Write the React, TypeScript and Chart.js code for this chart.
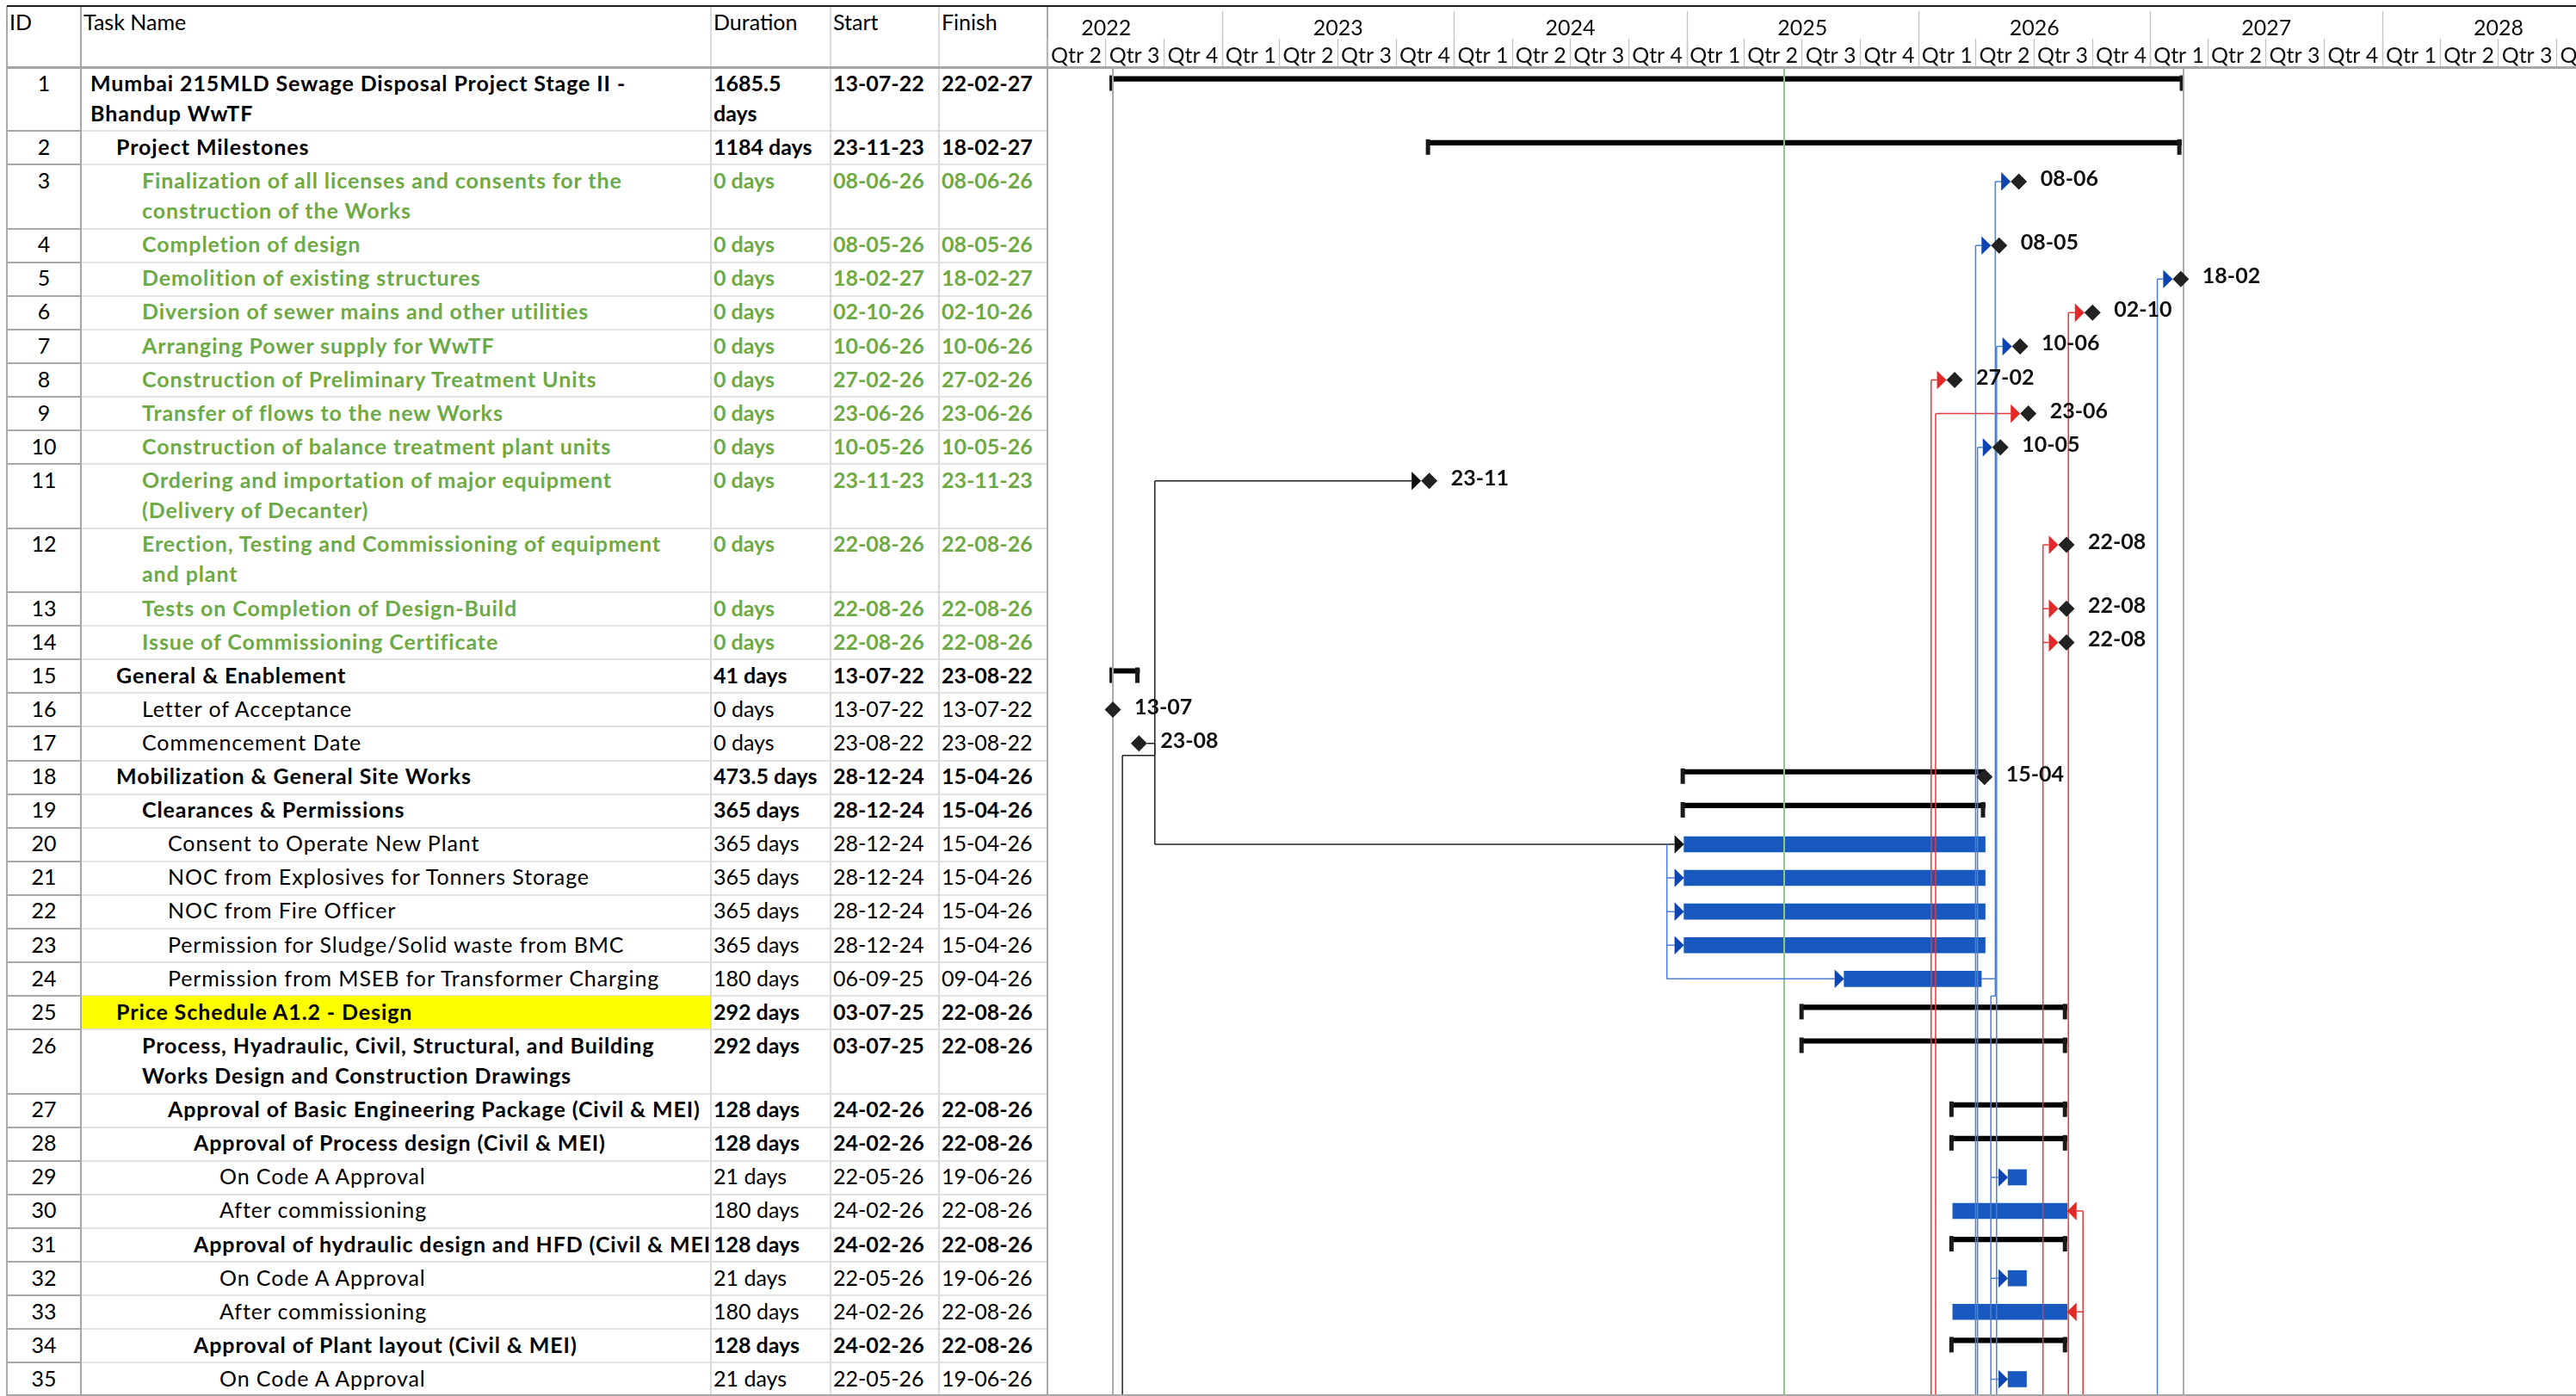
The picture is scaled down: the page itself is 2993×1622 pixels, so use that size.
import React, { useEffect, useRef } from 'react';
import { Chart, registerables } from 'chart.js';

Chart.register(...registerables);

// ---------------- data ----------------
const taskIds = ['1', '2', '3', '4', '5', '6', '7', '8', '9', '10', '11', '12', '13', '14', '15', '16', '17', '18',
  '19', '20', '21', '22', '23', '24', '25', '26', '27', '28', '29', '30', '31', '32', '33', '34', '35'];

const taskNames = [
  'Mumbai 215MLD Sewage Disposal Project Stage II -\nBhandup WwTF',
  'Project Milestones',
  'Finalization of all licenses and consents for the\nconstruction of the Works',
  'Completion of design',
  'Demolition of existing structures',
  'Diversion of sewer mains and other utilities',
  'Arranging Power supply for WwTF',
  'Construction of Preliminary Treatment Units',
  'Transfer of flows to the new Works',
  'Construction of balance treatment plant units',
  'Ordering and importation of major equipment\n(Delivery of Decanter)',
  'Erection, Testing and Commissioning of equipment\nand plant',
  'Tests on Completion of Design-Build',
  'Issue of Commissioning Certificate',
  'General & Enablement',
  'Letter of Acceptance',
  'Commencement Date',
  'Mobilization & General Site Works',
  'Clearances & Permissions',
  'Consent to Operate New Plant',
  'NOC from Explosives for Tonners Storage',
  'NOC from Fire Officer',
  'Permission for Sludge/Solid waste from BMC',
  'Permission from MSEB for Transformer Charging',
  'Price Schedule A1.2 - Design',
  'Process, Hyadraulic, Civil, Structural, and Building\nWorks Design and Construction Drawings',
  'Approval of Basic Engineering Package (Civil & MEI)',
  'Approval of Process design (Civil & MEI)',
  'On Code A Approval',
  'After commissioning',
  'Approval of hydraulic design and HFD (Civil & MEI)',
  'On Code A Approval',
  'After commissioning',
  'Approval of Plant layout (Civil & MEI)',
  'On Code A Approval',
];

const durations = ['1685.5\ndays', '1184 days', '0 days', '0 days', '0 days', '0 days', '0 days', '0 days', '0 days',
  '0 days', '0 days', '0 days', '0 days', '0 days', '41 days', '0 days', '0 days', '473.5 days', '365 days',
  '365 days', '365 days', '365 days', '365 days', '180 days', '292 days', '292 days', '128 days', '128 days',
  '21 days', '180 days', '128 days', '21 days', '180 days', '128 days', '21 days'];

const startDates = ['13-07-22', '23-11-23', '08-06-26', '08-05-26', '18-02-27', '02-10-26', '10-06-26', '27-02-26',
  '23-06-26', '10-05-26', '23-11-23', '22-08-26', '22-08-26', '22-08-26', '13-07-22', '13-07-22', '23-08-22',
  '28-12-24', '28-12-24', '28-12-24', '28-12-24', '28-12-24', '28-12-24', '06-09-25', '03-07-25', '03-07-25',
  '24-02-26', '24-02-26', '22-05-26', '24-02-26', '24-02-26', '22-05-26', '24-02-26', '24-02-26', '22-05-26'];

const finishDates = ['22-02-27', '18-02-27', '08-06-26', '08-05-26', '18-02-27', '02-10-26', '10-06-26', '27-02-26',
  '23-06-26', '10-05-26', '23-11-23', '22-08-26', '22-08-26', '22-08-26', '23-08-22', '13-07-22', '23-08-22',
  '15-04-26', '15-04-26', '15-04-26', '15-04-26', '15-04-26', '15-04-26', '09-04-26', '22-08-26', '22-08-26',
  '22-08-26', '22-08-26', '19-06-26', '22-08-26', '22-08-26', '19-06-26', '22-08-26', '22-08-26', '19-06-26'];

// S = summary, M = milestone, T = task
const taskKinds = ['S', 'S', 'M', 'M', 'M', 'M', 'M', 'M', 'M', 'M', 'M', 'M', 'M', 'M', 'S', 'M', 'M', 'S', 'S',
  'T', 'T', 'T', 'T', 'T', 'S', 'S', 'S', 'S', 'T', 'T', 'S', 'T', 'T', 'S', 'T'];

// outline level of each row
const outlineLevels = [0, 1, 2, 2, 2, 2, 2, 2, 2, 2, 2, 2, 2, 2, 1, 2, 2, 1, 2, 3, 3, 3, 3, 3, 1, 2, 3, 4, 5, 5, 4, 5,
  5, 4, 5];

// b = bold, g = green bold, n = normal
const rowStyles = ['b', 'b', 'g', 'g', 'g', 'g', 'g', 'g', 'g', 'g', 'g', 'g', 'g', 'g', 'b', 'n', 'n', 'b', 'b', 'n',
  'n', 'n', 'n', 'n', 'b', 'b', 'b', 'b', 'n', 'n', 'b', 'n', 'n', 'b', 'n'];

const highlightRows = [25];
const finishMarkerRows = [18];

const tableHeaders = ['ID', 'Task Name', 'Duration', 'Start', 'Finish'];
const timescaleYears = [2022, 2023, 2024, 2025, 2026, 2027, 2028];
const quarterLabels = ['Qtr 1', 'Qtr 2', 'Qtr 3', 'Qtr 4'];
const axisStart = '2022-04-01';
const axisEnd = '2028-11-01';
const statusDate = '2025-06-03';

const arrowHeads = [
  { row: 3, color: 'blue', side: 'start' }, { row: 4, color: 'blue', side: 'start' },
  { row: 5, color: 'blue', side: 'start' }, { row: 6, color: 'red', side: 'start' },
  { row: 7, color: 'blue', side: 'start' }, { row: 8, color: 'red', side: 'start' },
  { row: 9, color: 'red', side: 'start' }, { row: 10, color: 'blue', side: 'start' },
  { row: 11, color: 'black', side: 'start' }, { row: 12, color: 'red', side: 'start' },
  { row: 13, color: 'red', side: 'start' }, { row: 14, color: 'red', side: 'start' },
  { row: 20, color: 'black', side: 'start' }, { row: 21, color: 'blue', side: 'start' },
  { row: 22, color: 'blue', side: 'start' }, { row: 23, color: 'blue', side: 'start' },
  { row: 24, color: 'blue', side: 'start' }, { row: 29, color: 'blue', side: 'start' },
  { row: 30, color: 'red', side: 'end' }, { row: 32, color: 'blue', side: 'start' },
  { row: 33, color: 'red', side: 'end' }, { row: 35, color: 'blue', side: 'start' },
];

// dependency link routes (vertical at date x, from row to row; to 0 = bottom of view)
const linkRoutes = [
  { color: 'red', x: '2026-01-21', from: 8, to: 0, targets: [8] },
  { color: 'red', x: '2026-01-28', from: 9, to: 0, targets: [9] },
  { color: 'blue', x: '2026-04-01', from: 4, to: 0, targets: [4] },
  { color: 'blue', x: '2026-04-04', from: 10, to: 0, targets: [10] },
  { color: 'blue', x: '2026-05-02', from: 3, to: 24, targets: [3], source: 24 },
  { color: 'blue', x: '2026-05-04', from: 7, to: 0, targets: [7] },
  { color: 'red', x: '2026-07-16', from: 12, to: 0, targets: [12, 13, 14] },
  { color: 'red', x: '2026-08-25', from: 6, to: 0, targets: [6] },
  { color: 'blue', x: '2027-01-12', from: 5, to: 0, targets: [5] },
  { color: 'red', x: '2026-09-17', from: 30, to: 0, targets: [30, 33] },
  { color: 'blue', x: '2026-04-25', from: 24, drop: 20, join: '2026-05-02', to: 0, targets: [29, 32, 35] },
  { color: 'black', x: '2022-09-17', from: 11, to: 20, targets: [11, 20], source: 17 },
  { color: 'black', x: '2022-07-28', from: 17, drop: 14, join: '2022-09-17', to: 0, targets: [] },
  { color: 'blue', x: '2024-12-01', from: 20, to: 24, targets: [21, 22, 23, 24] },
];

// ---------------- helpers / layout ----------------
const DAY_MS = 86400000;
const BASE = Date.UTC(2022, 0, 1);
const dmy = (s: string) => {
  const [d, m, y] = s.split('-').map(Number);
  return (Date.UTC(2000 + y, m - 1, d) - BASE) / DAY_MS;
};
const iso = (s: string) => {
  const [y, m, d] = s.split('-').map(Number);
  return (Date.UTC(y, m - 1, d) - BASE) / DAY_MS;
};

const FONT = 'Lato, "Open Sans", sans-serif';
const FS = 25;
const NAME_SPACING = 0.9;
const LINE_H = 35.2;
const ROW_PAD = 3.9;
const HEADER_TOP = 7;
const HEADER_BOTTOM = 78;
const MARK_OFFSET = 19.55;
const PAGE_W = 2993;
const PAGE_H = 1622;
const COLS = [8, 94, 826, 965, 1091, 1217];
const GANTT_LEFT = 1217;
const GREEN = '#6DAA45';

const lineCounts = taskNames.map((n) => n.split('\n').length);
const rowHeights = lineCounts.map((c) => ROW_PAD + LINE_H * c);
const rowTops: number[] = [];
let acc = 0;
for (const h of rowHeights) { rowTops.push(acc); acc += h; }
const totalHeight = acc;
const markY = rowTops.map((t) => t + MARK_OFFSET);

const taskBarData = taskKinds.flatMap((k, i) => (k === 'T'
  ? [{ x: [dmy(startDates[i]), dmy(finishDates[i]) + 1], y: markY[i] }] : []));
const summaryData = taskKinds.flatMap((k, i) => (k === 'S'
  ? [{ x: [dmy(startDates[i]), dmy(finishDates[i]) + 1], y: markY[i] - 6 }] : []));
const milestoneData = [
  ...taskKinds.flatMap((k, i) => (k === 'M' ? [{ x: dmy(startDates[i]), y: markY[i] }] : [])),
  ...finishMarkerRows.map((r) => ({ x: dmy(finishDates[r - 1]), y: markY[r - 1] })),
];

const ARROW_COL: Record<string, string> = { blue: '#0F45B0', red: '#E42828', black: '#111111' };
const LINK_COL: Record<string, string> = { blue: '#4D7FD3', red: '#E53A3A', black: '#222222' };

const ganttPlugin = {
  id: 'ganttDecor',
  afterDatasetDraw(chart: any, args: any) {
    if (args.index !== 1) return;
    const { ctx, chartArea } = chart;
    const xs = chart.scales.x;
    const ys = chart.scales.y;
    const X = (v: number) => xs.getPixelForValue(v);
    const Y = (row: number) => ys.getPixelForValue(markY[row - 1]);
    ctx.save();
    ctx.beginPath();
    ctx.rect(chartArea.left, chartArea.top, chartArea.right - chartArea.left, chartArea.bottom - chartArea.top);
    ctx.clip();

    // summary caps
    ctx.fillStyle = '#1a1a1a';
    taskKinds.forEach((k, i) => {
      if (k !== 'S') return;
      const yc = Y(i + 1);
      const x0 = X(dmy(startDates[i]));
      const x1 = X(dmy(finishDates[i]) + 1);
      ctx.fillRect(x0 - 4, yc - 10, 5, 18);
      if (!finishMarkerRows.includes(i + 1)) ctx.fillRect(x1 - 5, yc - 10, 5, 18);
    });

    // project start / finish and status lines
    ctx.lineWidth = 2;
    ctx.strokeStyle = '#ABABAB';
    [dmy(startDates[0]), dmy(finishDates[0])].forEach((d) => {
      const x = Math.round(X(d));
      ctx.beginPath(); ctx.moveTo(x, chartArea.top); ctx.lineTo(x, chartArea.bottom); ctx.stroke();
    });
    ctx.strokeStyle = '#8FC58C';
    const sx = Math.round(X(iso(statusDate)));
    ctx.beginPath(); ctx.moveTo(sx, chartArea.top); ctx.lineTo(sx, chartArea.bottom); ctx.stroke();

    // arrow tails / sources
    const tailX = (row: number) => {
      const a = arrowHeads.find((h) => h.row === row);
      const i = row - 1;
      if (a && a.side === 'end') return X(dmy(finishDates[i]) + 1) + 11;
      if (taskKinds[i] === 'M') return X(dmy(startDates[i])) - 9.5 - 11;
      return X(dmy(startDates[i])) - 11;
    };
    const sourceX = (row: number) => {
      const i = row - 1;
      if (taskKinds[i] === 'M') return X(dmy(startDates[i])) + 9.5;
      return X(dmy(finishDates[i]) + 1);
    };

    // links
    ctx.lineWidth = 1.5;
    ctx.lineJoin = 'round';
    linkRoutes.forEach((l: any) => {
      ctx.strokeStyle = LINK_COL[l.color];
      const lx = X(iso(l.x));
      const y0 = Y(l.from) + (l.drop || 0);
      const y1 = l.to ? Y(l.to) : chartArea.bottom;
      ctx.beginPath();
      ctx.moveTo(lx, y0); ctx.lineTo(lx, y1);
      if (l.join) {
        const jx = X(iso(l.join));
        ctx.moveTo(jx, Y(l.from)); ctx.lineTo(jx, y0); ctx.lineTo(lx, y0);
      }
      l.targets.forEach((t: number) => { ctx.moveTo(lx, Y(t)); ctx.lineTo(tailX(t), Y(t)); });
      if (l.source) { ctx.moveTo(sourceX(l.source), Y(l.source)); ctx.lineTo(lx, Y(l.source)); }
      ctx.stroke();
    });

    // arrow heads
    arrowHeads.forEach((a) => {
      const i = a.row - 1;
      const yc = Y(a.row);
      ctx.fillStyle = ARROW_COL[a.color];
      ctx.beginPath();
      if (a.side === 'end') {
        const tip = X(dmy(finishDates[i]) + 1);
        ctx.moveTo(tip, yc); ctx.lineTo(tip + 11, yc - 10.8); ctx.lineTo(tip + 11, yc + 10.8);
      } else {
        const tip = taskKinds[i] === 'M' ? X(dmy(startDates[i])) - 9.5 : X(dmy(startDates[i]));
        ctx.moveTo(tip, yc); ctx.lineTo(tip - 11, yc - 10.8); ctx.lineTo(tip - 11, yc + 10.8);
      }
      ctx.closePath();
      ctx.fill();
    });
    ctx.restore();
  },
  afterDatasetsDraw(chart: any) {
    const { ctx, chartArea } = chart;
    const xs = chart.scales.x;
    const ys = chart.scales.y;
    ctx.save();
    ctx.beginPath();
    ctx.rect(chartArea.left, chartArea.top, chartArea.right - chartArea.left, chartArea.bottom - chartArea.top);
    ctx.clip();
    ctx.fillStyle = '#111';
    ctx.font = `bold ${FS}px ${FONT}`;
    ctx.textAlign = 'left';
    ctx.textBaseline = 'alphabetic';
    const label = (s: string) => s.slice(0, 5);
    taskKinds.forEach((k, i) => {
      if (k !== 'M') return;
      ctx.fillText(label(startDates[i]), xs.getPixelForValue(dmy(startDates[i])) + 25, ys.getPixelForValue(markY[i]) + 5);
    });
    finishMarkerRows.forEach((r) => {
      const i = r - 1;
      ctx.fillText(label(finishDates[i]), xs.getPixelForValue(dmy(finishDates[i])) + 25, ys.getPixelForValue(markY[i]) + 5);
    });
    ctx.restore();
  },
  afterDraw(chart: any) {
    const { ctx, chartArea } = chart;
    const xs = chart.scales.x;
    ctx.save();
    ctx.beginPath();
    ctx.rect(chartArea.left, 0, chartArea.right - chartArea.left, HEADER_BOTTOM);
    ctx.clip();
    ctx.strokeStyle = '#C4C4C4';
    ctx.lineWidth = 1.3;
    ctx.fillStyle = '#111';
    ctx.font = `${FS}px ${FONT}`;
    ctx.textAlign = 'center';
    ctx.textBaseline = 'alphabetic';
    const pad = (n: number) => String(n).padStart(2, '0');
    timescaleYears.forEach((yr) => {
      const x0 = xs.getPixelForValue(iso(`${yr}-01-01`));
      const x1 = xs.getPixelForValue(iso(`${yr + 1}-01-01`));
      ctx.beginPath(); ctx.moveTo(Math.round(x0) + 0.5, 13); ctx.lineTo(Math.round(x0) + 0.5, HEADER_BOTTOM); ctx.stroke();
      ctx.fillText(String(yr), (x0 + x1) / 2, 41);
      quarterLabels.forEach((q, qi) => {
        const q0 = xs.getPixelForValue(iso(`${yr}-${pad(qi * 3 + 1)}-01`));
        const q1 = qi === 3 ? x1 : xs.getPixelForValue(iso(`${yr}-${pad(qi * 3 + 4)}-01`));
        ctx.beginPath(); ctx.moveTo(Math.round(q0) + 0.5, 45); ctx.lineTo(Math.round(q0) + 0.5, HEADER_BOTTOM); ctx.stroke();
        ctx.fillText(q, (q0 + q1) / 2, 73);
      });
    });
    ctx.restore();
  },
};

// ---------------- component ----------------
export default function App() {
  const canvasRef = useRef<HTMLCanvasElement>(null);

  useEffect(() => {
    if (!canvasRef.current) return undefined;
    const chart = new Chart(canvasRef.current, {
      type: 'bar',
      data: {
        datasets: [
          {
            label: 'Tasks', type: 'bar', indexAxis: 'y', data: taskBarData as any,
            backgroundColor: '#1759BE', borderWidth: 0, borderSkipped: false,
            barThickness: 18, grouped: false, order: 3,
          } as any,
          {
            label: 'Summary', type: 'bar', indexAxis: 'y', data: summaryData as any,
            backgroundColor: '#000000', borderWidth: 0, borderSkipped: false,
            barThickness: 5.5, grouped: false, order: 2,
          } as any,
          {
            label: 'Milestones', type: 'scatter', data: milestoneData as any,
            pointStyle: 'rectRot', pointRadius: 9.5, pointHoverRadius: 9.5,
            pointBackgroundColor: '#222222', pointBorderWidth: 0, showLine: false, order: 1,
          } as any,
        ],
      },
      options: {
        animation: false,
        responsive: false,
        indexAxis: 'y',
        events: [],
        layout: { autoPadding: false, padding: { top: HEADER_BOTTOM, left: 0, right: 0, bottom: 0 } },
        plugins: { legend: { display: false }, tooltip: { enabled: false }, title: { display: false } },
        scales: {
          x: {
            type: 'linear', min: iso(axisStart), max: iso(axisEnd), display: false,
            offset: false, grace: 0, beginAtZero: false, grid: { offset: false },
          },
          y: {
            type: 'linear', min: 0, max: totalHeight, reverse: true, display: false,
            offset: false, grace: 0, beginAtZero: false, grid: { offset: false },
          },
        },
      } as any,
      plugins: [ganttPlugin as any],
    });
    return () => chart.destroy();
  }, []);

  const textBase: React.CSSProperties = {
    position: 'absolute', boxSizing: 'border-box', fontFamily: FONT, fontSize: FS,
    lineHeight: `${LINE_H}px`, paddingTop: 0.5, whiteSpace: 'pre', overflow: 'hidden', color: '#000',
  };

  const headerLeft = [11, 97, 829, 968, 1094];

  return (
    <div style={{ position: 'fixed', left: 0, top: 0, width: PAGE_W, height: PAGE_H, overflow: 'hidden', background: '#fff' }}>
      {/* header labels */}
      {tableHeaders.map((h, i) => (
        <div key={h} style={{ ...textBase, left: headerLeft[i], top: HEADER_TOP + 0.5, height: 40 }}>{h}</div>
      ))}

      {/* rows */}
      {taskNames.map((name, i) => {
        const top = HEADER_BOTTOM + rowTops[i];
        const h = rowHeights[i];
        const st = rowStyles[i];
        const color = st === 'g' ? GREEN : '#000';
        const fontWeight = st === 'n' ? 400 : 700;
        const hl = highlightRows.includes(i + 1);
        return (
          <React.Fragment key={i}>
            <div style={{ ...textBase, left: COLS[0], top, width: COLS[1] - COLS[0], height: h, textAlign: 'center' }}>{taskIds[i]}</div>
            <div style={{
              ...textBase, left: COLS[1], top, width: COLS[2] - COLS[1], height: h, color, fontWeight,
              letterSpacing: NAME_SPACING, background: hl ? '#FFFF00' : 'transparent', paddingLeft: 11 + outlineLevels[i] * 30,
            }}>{name}</div>
            <div style={{ ...textBase, left: COLS[2], top, width: COLS[3] - COLS[2], height: h, color, fontWeight, paddingLeft: 3 }}>{durations[i]}</div>
            <div style={{ ...textBase, left: COLS[3], top, width: COLS[4] - COLS[3], height: h, color, fontWeight, paddingLeft: 3 }}>{startDates[i]}</div>
            <div style={{ ...textBase, left: COLS[4], top, width: COLS[5] - COLS[4], height: h, color, fontWeight, paddingLeft: 3 }}>{finishDates[i]}</div>
            <div style={{ position: 'absolute', left: COLS[0], top: top + h - 1, width: COLS[1] - COLS[0], height: 2, background: '#A8A8A8' }} />
            <div style={{ position: 'absolute', left: COLS[1], top: top + h - 1, width: COLS[5] - COLS[1], height: 2, background: '#E2E2E2' }} />
          </React.Fragment>
        );
      })}

      {/* column lines */}
      {COLS.map((x, i) => (
        <div key={`c${i}`} style={{
          position: 'absolute', left: x - 1, top: HEADER_TOP, width: 2, height: PAGE_H - HEADER_TOP,
          background: i === 0 || i === 1 || i === 5 ? '#A8A8A8' : '#DADADA',
        }} />
      ))}

      {/* gantt canvas */}
      <div style={{ position: 'absolute', left: GANTT_LEFT, top: 0, width: PAGE_W - GANTT_LEFT, height: PAGE_H }}>
        <canvas ref={canvasRef} width={PAGE_W - GANTT_LEFT} height={PAGE_H}
          style={{ width: PAGE_W - GANTT_LEFT, height: PAGE_H, display: 'block' }} />
      </div>

      {/* header frame lines */}
      <div style={{ position: 'absolute', left: 8, top: HEADER_TOP - 1, width: PAGE_W - 8, height: 2, background: '#1b1b1b' }} />
      <div style={{ position: 'absolute', left: 8, top: HEADER_BOTTOM - 1, width: PAGE_W - 8, height: 3, background: '#A6A6A6' }} />
      <div style={{ position: 'absolute', left: 8, top: PAGE_H - 2, width: PAGE_W - 8, height: 2, background: '#A6A6A6' }} />
    </div>
  );
}
